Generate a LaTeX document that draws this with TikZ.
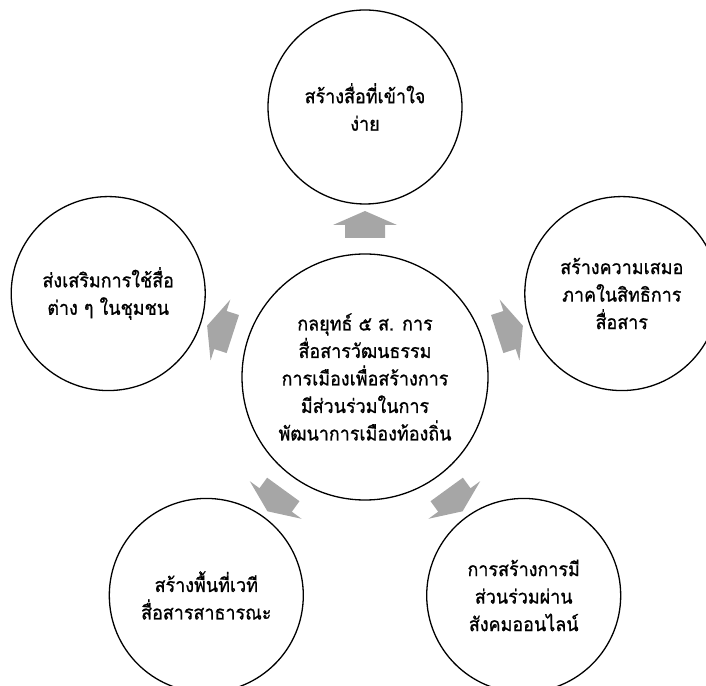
\documentclass[tikz,border=0pt]{standalone}
\usepackage{fontspec}
\newfontfamily\thaifont[Script=Thai,FakeStretch=0.92,FakeBold=0.9]{Loma}
\usetikzlibrary{calc}
\definecolor{arrowgray}{RGB}{166,166,166}
\begin{document}
\begin{tikzpicture}[x=1pt,y=1pt,
  bub/.style={circle, draw=black, line width=1.3pt, fill=white, minimum size=194pt, inner sep=0pt, align=center,
    font=\thaifont\fontsize{19.5}{27.5}\selectfont},
  arr/.style={fill=arrowgray, draw=none}]
\useasboundingbox (0,0) rectangle (706,685);
\node[bub, minimum size=246pt] (c) at (365,308) {กลยุทธ์ ๕ ส. การ\\สื่อสารวัฒนธรรม\\การเมืองเพื่อสร้างการ\\มีส่วนร่วมในการ\\พัฒนาการเมืองท้องถิ่น};
\node[bub] (top) at ($(c)+(90:270)$) {สร้างสื่อที่เข้าใจ\\ง่าย};
\node[bub] (right) at ($(c)+(18:270)$) {สร้างความเสมอ\\ภาคในสิทธิการ\\สื่อสาร};
\node[bub] (left) at ($(c)+(162:270)$) {ส่งเสริมการใช้สื่อ\\ต่าง ๆ ในชุมชน};
\node[bub] (bl) at ($(c)+(234:270)$) {สร้างพื้นที่เวที\\สื่อสารสาธารณะ};
\node[bub] (br) at ($(c)+(306:270)$) {การสร้างการมี\\ส่วนร่วมผ่าน\\สังคมออนไลน์};
\foreach \a in {90,18,162,234,306}
  \fill[arr, shift={(c.center)}, rotate=\a] (139,-20) -- (152,-20) -- (152,-32) -- (166,0) -- (152,32) -- (152,20) -- (139,20) -- cycle;
\end{tikzpicture}
\end{document}
